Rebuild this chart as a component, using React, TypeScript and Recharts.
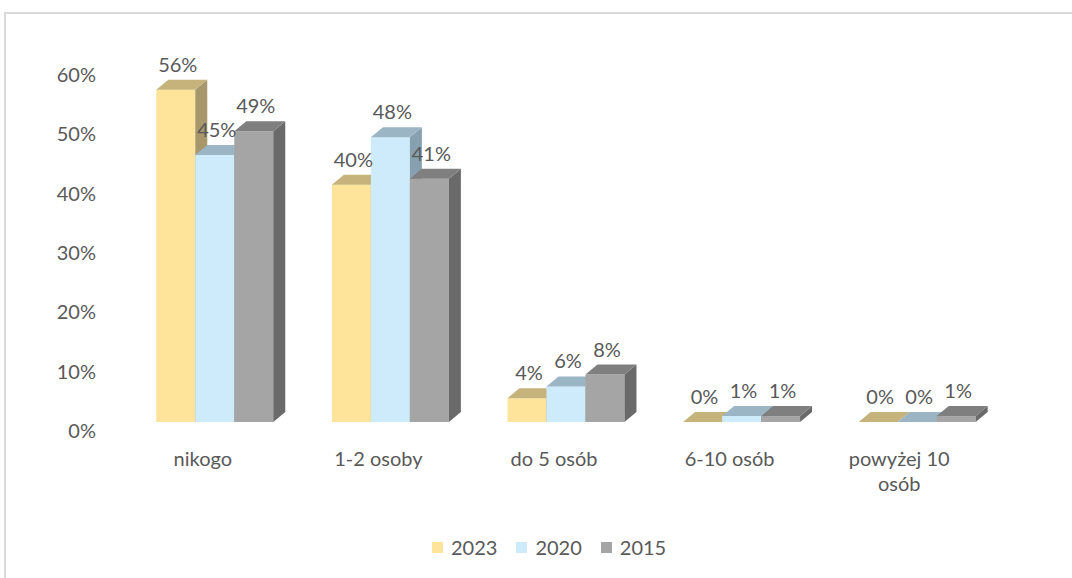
import React from 'react';
import { BarChart, Bar, XAxis, YAxis, Legend, LabelList } from 'recharts';

const categories = ['nikogo', '1-2 osoby', 'do 5 osób', '6-10 osób', 'powyżej 10 osób'];
const values2023 = [56, 40, 4, 0, 0];
const values2020 = [45, 48, 6, 1, 0];
const values2015 = [49, 41, 8, 1, 1];
const yTicks = [0, 10, 20, 30, 40, 50, 60];
const seriesNames = ['2023', '2020', '2015'];

const palette: Record<string, { front: string; top: string; side: string }> = {
  '2023': { front: '#FDE49A', top: '#C5B37B', side: '#A8976A' },
  '2020': { front: '#CDEBFB', top: '#9BB5C5', side: '#86A0B0' },
  '2015': { front: '#A5A5A5', top: '#7F7F7F', side: '#6A6A6A' },
};

const data = categories.map((c, i) => ({
  name: c,
  '2023': values2023[i],
  '2020': values2020[i],
  '2015': values2015[i],
}));

const DX = 12;
const DY = 10;
const FONT = 'Lato, "Open Sans", sans-serif';
const TEXT = '#595959';
const FS = 20;

const makeShape = (key: string) => (props: any) => {
  const { x, y, width, height } = props;
  const c = palette[key];
  const h = Math.max(0, height || 0);
  const top = `${x},${y} ${x + DX},${y - DY} ${x + width + DX},${y - DY} ${x + width},${y}`;
  const side = `${x + width},${y} ${x + width + DX},${y - DY} ${x + width + DX},${y + h - DY} ${x + width},${y + h}`;
  return (
    <g>
      {h > 0 && <rect x={x} y={y} width={width} height={h} fill={c.front} />}
      <polygon points={side} fill={c.side} />
      <polygon points={top} fill={c.top} />
    </g>
  );
};

const renderLabel = (props: any) => {
  const { x, y, width, value } = props;
  return (
    <text
      x={x + width / 2 + 2}
      y={y - DY - 8}
      textAnchor="middle"
      fontFamily={FONT}
      fontSize={FS}
      fill={TEXT}
    >
      {`${value}%`}
    </text>
  );
};

const YTick = (props: any) => {
  const { y, payload } = props;
  return (
    <text x={96} y={y + 8} textAnchor="end" dominantBaseline="central" fontFamily={FONT} fontSize={FS} fill={TEXT}>
      {`${payload.value}%`}
    </text>
  );
};

const XTick = (props: any) => {
  const { x, payload } = props;
  const label: string = payload.value;
  let lines = [label];
  if (label.length > 10) {
    const idx = label.lastIndexOf(' ');
    lines = [label.slice(0, idx), label.slice(idx + 1)];
  }
  const cx = x - 12 - (lines.length > 1 ? 6 : 0);
  return (
    <text x={cx} y={466} textAnchor="middle" fontFamily={FONT} fontSize={FS} fill={TEXT}>
      {lines.map((l, i) => (
        <tspan key={i} x={cx} dy={i === 0 ? 0 : 25}>
          {l}
        </tspan>
      ))}
    </text>
  );
};

const LegendContent = () => (
  <div style={{ height: 30, display: 'flex', alignItems: 'center', paddingLeft: 432, fontFamily: FONT, fontSize: FS, color: TEXT }}>
    {seriesNames.map((s) => (
      <div key={s} style={{ display: 'flex', alignItems: 'center', marginRight: 19 }}>
        <span style={{ display: 'inline-block', width: 11, height: 11, background: palette[s].front, marginRight: 8 }} />
        <span>{s}</span>
      </div>
    ))}
  </div>
);

export default function App() {
  return (
    <div style={{ position: 'relative', width: 1072, height: 578 }}>
      <style>{`body{margin:0;overflow:hidden;background:#fff}`}</style>
      <div
        style={{
          position: 'absolute',
          left: 4,
          top: 12,
          width: 1100,
          height: 600,
          border: '2px solid #d9d9d9',
          boxSizing: 'border-box',
        }}
      />
      <div style={{ position: 'absolute', left: 0, top: 0 }}>
        <BarChart
          width={1072}
          height={578}
          data={data}
          margin={{ top: 66, right: 67, bottom: 16, left: 0 }}
          barCategoryGap="16.67%"
          barGap={0}
        >
          <XAxis dataKey="name" height={110} axisLine={false} tickLine={false} tick={<XTick />} interval={0} />
          <YAxis width={127} domain={[0, 60]} ticks={yTicks} axisLine={false} tickLine={false} tick={<YTick />} />
          <Legend verticalAlign="bottom" content={<LegendContent />} />
          {seriesNames.map((s) => (
            <Bar key={s} dataKey={s} fill={palette[s].front} shape={makeShape(s)} isAnimationActive={false}>
              <LabelList dataKey={s} content={renderLabel} />
            </Bar>
          ))}
        </BarChart>
      </div>
    </div>
  );
}
